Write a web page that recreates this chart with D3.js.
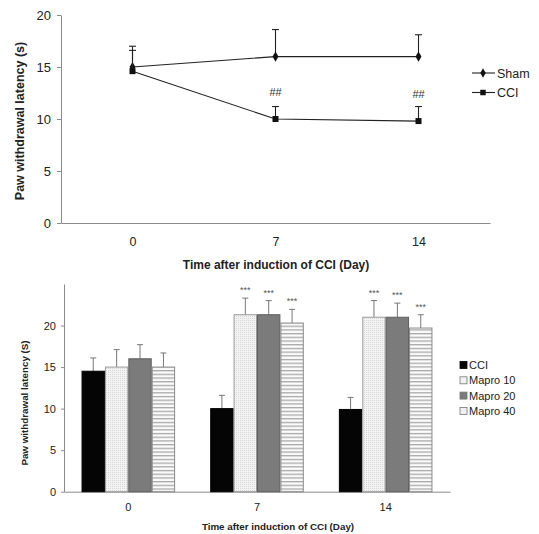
<!DOCTYPE html>
<html>
<head>
<meta charset="utf-8">
<script src="https://cdn.jsdelivr.net/npm/d3@7"></script>
<style>
  html, body { margin: 0; padding: 0; background: #fff; }
  svg { display: block; font-family: "Liberation Sans", Arial, sans-serif; }
</style>
</head>
<body>
<svg id="chart" width="539" height="534"></svg>
<script>
// ---------- Top chart data (line chart) ----------
const days = ["0", "7", "14"];
const shamMean = [15, 16, 16];
const shamErr  = [2.0, 2.6, 2.1];
const cciMean  = [14.6, 10.0, 9.8];
const cciErr   = [2.0, 1.2, 1.4];
const hashMarks = ["", "##", "##"];
const topYTicks = [0, 5, 10, 15, 20];

// ---------- Bottom chart data (grouped bars) ----------
const groups = ["0", "7", "14"];
const barSeries = ["CCI", "Mapro 10", "Mapro 20", "Mapro 40"];
const barCCI   = [14.5, 10.0, 9.9];
const barM10   = [15.0, 21.3, 21.0];
const barM20   = [16.0, 21.3, 21.0];
const barM40   = [15.0, 20.3, 19.7];
const errCCI   = [1.6, 1.6, 1.45];
const errM10   = [2.1, 2.0, 2.0];
const errM20   = [1.7, 1.7, 1.7];
const errM40   = [1.7, 1.65, 1.6];
const starsCCI = ["", "", ""];
const starsM10 = ["", "***", "***"];
const starsM20 = ["", "***", "***"];
const starsM40 = ["", "***", "***"];
const botYTicks = [0, 5, 10, 15, 20];

const svg = d3.select("#chart");
const axisColor = "#8a8a8a";
const textColor = "#222";

// =============== TOP CHART ===============
const tx = d3.scalePoint().domain(days).range([61, 490]).padding(0.5);
const ty = d3.scaleLinear().domain([0, 20]).range([223, 15]);

const gTop = svg.append("g");

const tyAxis = gTop.append("g").attr("transform", "translate(61,0)")
  .call(d3.axisLeft(ty).tickValues(topYTicks).tickSize(4).tickPadding(6).tickSizeOuter(0));
tyAxis.select(".domain").attr("stroke", axisColor);
tyAxis.selectAll(".tick line").attr("stroke", axisColor);
tyAxis.selectAll("text").attr("font-size", 13).attr("fill", textColor);

const txAxis = gTop.append("g").attr("transform", "translate(0,223)")
  .call(d3.axisBottom(tx).tickSize(0).tickPadding(14).tickSizeOuter(0));
txAxis.select(".domain").attr("stroke", axisColor);
txAxis.selectAll("text").attr("font-size", 12.5).attr("fill", textColor);

gTop.append("text").attr("x", 276).attr("y", 269).attr("text-anchor", "middle")
  .attr("font-size", 12).attr("font-weight", "bold").attr("fill", textColor)
  .text("Time after induction of CCI (Day)");
gTop.append("text").attr("transform", "translate(24,121) rotate(-90)")
  .attr("text-anchor", "middle").attr("font-size", 12.5).attr("font-weight", "bold").attr("fill", textColor)
  .text("Paw withdrawal latency (s)");

const lineGen = d3.line().x((d, i) => tx(days[i])).y(d => ty(d));
const lineSeries = [
  { name: "Sham", mean: shamMean, err: shamErr, sym: d3.symbolDiamond },
  { name: "CCI",  mean: cciMean,  err: cciErr,  sym: d3.symbolSquare }
];
const lineColor = "#222";

lineSeries.forEach(s => {
  s.mean.forEach((m, i) => {
    const x = tx(days[i]);
    gTop.append("line").attr("x1", x).attr("x2", x)
      .attr("y1", ty(m)).attr("y2", ty(m + s.err[i]))
      .attr("stroke", lineColor).attr("stroke-width", 1.1);
    gTop.append("line").attr("x1", x - 3.5).attr("x2", x + 3.5)
      .attr("y1", ty(m + s.err[i])).attr("y2", ty(m + s.err[i]))
      .attr("stroke", lineColor).attr("stroke-width", 1.1);
  });
  gTop.append("path").datum(s.mean).attr("d", lineGen)
    .attr("fill", "none").attr("stroke", lineColor).attr("stroke-width", 1.1);
  gTop.selectAll(null).data(s.mean).enter().append("path")
    .attr("transform", (d, i) => `translate(${tx(days[i])},${ty(d)})`)
    .attr("d", d3.symbol().type(s.sym).size(s.name === "CCI" ? 36 : 30))
    .attr("fill", "#111");
});

gTop.selectAll(null).data(hashMarks).enter().append("text")
  .attr("x", (d, i) => tx(days[i]))
  .attr("y", (d, i) => ty(cciMean[i]) - 23)
  .attr("text-anchor", "middle").attr("font-size", 11).attr("fill", "#333")
  .text(d => d);

lineSeries.forEach((s, k) => {
  const y = 73 + k * 19.5;
  gTop.append("line").attr("x1", 472).attr("x2", 495).attr("y1", y).attr("y2", y)
    .attr("stroke", lineColor).attr("stroke-width", 1.1);
  gTop.append("path").attr("transform", `translate(483,${y})`)
    .attr("d", d3.symbol().type(s.sym).size(s.name === "CCI" ? 30 : 26)).attr("fill", "#111");
  gTop.append("text").attr("x", 497).attr("y", y).attr("dy", "0.36em")
    .attr("font-size", 12.5).attr("fill", textColor).text(s.name);
});

// =============== BOTTOM CHART ===============
const defs = svg.append("defs");
const p10 = defs.append("pattern").attr("id", "pat10").attr("patternUnits", "userSpaceOnUse")
  .attr("width", 2).attr("height", 2);
p10.append("rect").attr("width", 2).attr("height", 2).attr("fill", "#f3f3f3");
p10.append("rect").attr("width", 1).attr("height", 1).attr("fill", "#d6d6d6");
const p40 = defs.append("pattern").attr("id", "pat40").attr("patternUnits", "userSpaceOnUse")
  .attr("width", 4).attr("height", 3.7);
p40.append("rect").attr("width", 4).attr("height", 3.7).attr("fill", "#fbfbfb");
p40.append("rect").attr("width", 4).attr("height", 1.3).attr("fill", "#a8a8a8");

const barStyle = {
  "CCI":      { fill: "#050505", stroke: "#000" },
  "Mapro 10": { fill: "url(#pat10)", stroke: "#9a9a9a" },
  "Mapro 20": { fill: "#7b7b7b", stroke: "#5e5e5e" },
  "Mapro 40": { fill: "url(#pat40)", stroke: "#8a8a8a" }
};
const legendSwatch = {
  "CCI": "#050505", "Mapro 10": "#f2f2f2", "Mapro 20": "#7b7b7b", "Mapro 40": "#f0f0f0"
};

const bx0 = d3.scaleBand().domain(groups).range([64, 450]).padding(0);
const bx1 = d3.scaleBand().domain(barSeries).range([0, bx0.bandwidth()]).paddingInner(0).paddingOuter(0.75);
const by = d3.scaleLinear().domain([0, 25]).range([491.7, 284]);

const gBot = svg.append("g");
const byAxis = gBot.append("g").attr("transform", "translate(64,0)")
  .call(d3.axisLeft(by).tickValues(botYTicks).tickSize(3).tickPadding(5).tickSizeOuter(0));
byAxis.select(".domain").attr("stroke", axisColor);
byAxis.selectAll(".tick line").attr("stroke", axisColor);
byAxis.selectAll("text").attr("font-size", 11).attr("fill", textColor);

const bxAxis = gBot.append("g").attr("transform", "translate(0,491.7)")
  .call(d3.axisBottom(bx0).tickSize(0).tickPadding(12).tickSizeOuter(0));
bxAxis.select(".domain").attr("stroke", axisColor);
bxAxis.selectAll("text").attr("font-size", 11).attr("fill", textColor);

gBot.append("text").attr("x", 278).attr("y", 530).attr("text-anchor", "middle")
  .attr("font-size", 9.8).attr("font-weight", "bold").attr("fill", textColor)
  .text("Time after induction of CCI (Day)");
gBot.append("text").attr("transform", "translate(28,403) rotate(-90)")
  .attr("text-anchor", "middle").attr("font-size", 9.8).attr("font-weight", "bold").attr("fill", textColor)
  .text("Paw withdrawal latency (S)");

const barData = [
  { name: "CCI", vals: barCCI, errs: errCCI, stars: starsCCI },
  { name: "Mapro 10", vals: barM10, errs: errM10, stars: starsM10 },
  { name: "Mapro 20", vals: barM20, errs: errM20, stars: starsM20 },
  { name: "Mapro 40", vals: barM40, errs: errM40, stars: starsM40 }
];

barData.forEach(s => {
  s.vals.forEach((v, i) => {
    const x = bx0(groups[i]) + bx1(s.name);
    const w = bx1.bandwidth();
    const cx = x + w / 2;
    const topV = v + s.errs[i];
    gBot.append("line").attr("x1", cx).attr("x2", cx).attr("y1", by(v)).attr("y2", by(topV))
      .attr("stroke", "#777").attr("stroke-width", 1);
    gBot.append("line").attr("x1", cx - 3).attr("x2", cx + 3).attr("y1", by(topV)).attr("y2", by(topV))
      .attr("stroke", "#777").attr("stroke-width", 1);
    gBot.append("rect").attr("x", x + 0.5).attr("y", by(v)).attr("width", w - 1)
      .attr("height", by(0) - by(v))
      .attr("fill", barStyle[s.name].fill).attr("stroke", barStyle[s.name].stroke).attr("stroke-width", 1);
    if (s.stars[i]) {
      gBot.append("text").attr("x", cx).attr("y", by(topV) - 5).attr("text-anchor", "middle")
        .attr("font-size", 9).attr("fill", "#555").text(s.stars[i]);
    }
  });
});

barSeries.forEach((name, k) => {
  const y = 365 + k * 15.3;
  gBot.append("rect").attr("x", 460).attr("y", y - 3.5).attr("width", 7).attr("height", 7)
    .attr("fill", legendSwatch[name]).attr("stroke", name === "CCI" ? "#000" : "#777").attr("stroke-width", 0.8);
  gBot.append("text").attr("x", 469).attr("y", y).attr("dy", "0.36em")
    .attr("font-size", 11).attr("fill", textColor).text(name);
});
</script>
</body>
</html>
